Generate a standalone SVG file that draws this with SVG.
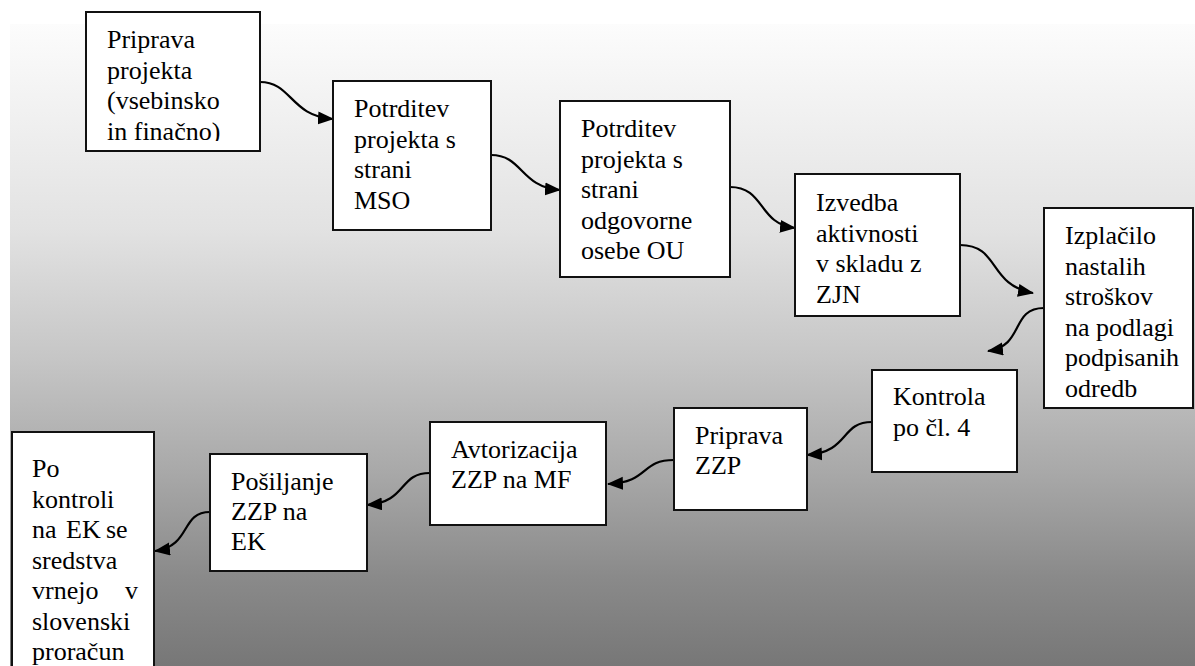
<svg xmlns="http://www.w3.org/2000/svg" width="1195" height="666" viewBox="0 0 1195 666">
<style>
.box{fill:#fff;stroke:#111;stroke-width:2}
.c{fill:none;stroke:#000;stroke-width:2.2}
</style>
<defs>
<linearGradient id="bg" gradientUnits="userSpaceOnUse" x1="0" y1="24" x2="0" y2="666">
<stop offset="0" stop-color="#fcfcfc"/>
<stop offset="0.32" stop-color="#e2e2e2"/>
<stop offset="0.52" stop-color="#c6c6c6"/>
<stop offset="0.70" stop-color="#a8a8a8"/>
<stop offset="0.86" stop-color="#8a8a8a"/>
<stop offset="1" stop-color="#777777"/>
</linearGradient>
<marker id="ah" markerUnits="userSpaceOnUse" markerWidth="17" markerHeight="14" refX="15" refY="6.5" orient="auto">
<path d="M0,0 L16,6.5 L0,13 z" fill="#000" stroke="none"/>
</marker>
<clipPath id="clip1"><rect x="86" y="12" width="174" height="129"/></clipPath>
</defs>
<rect x="0" y="0" width="1195" height="666" fill="#fff"/>
<rect x="10" y="24" width="1185" height="642" fill="url(#bg)"/>

<g id="connectors">
<path class="c" d="M260,82 C292,82 290,116 333,119" marker-end="url(#ah)"/>
<path class="c" d="M491,155 C523,155 520,187 560,190" marker-end="url(#ah)"/>
<path class="c" d="M730,187 C765,187 758,224 795,228" marker-end="url(#ah)"/>
<path class="c" d="M960,245 C1000,245 988,285 1033,293" marker-end="url(#ah)"/>
<path class="c" d="M1044,308 C1010,308 1025,346 988,351" marker-end="url(#ah)"/>
<path class="c" d="M872,422 C840,422 850,452 807,455" marker-end="url(#ah)"/>
<path class="c" d="M674,460 C640,460 650,482 608,484" marker-end="url(#ah)"/>
<path class="c" d="M430,473 C398,473 408,502 367,505" marker-end="url(#ah)"/>
<path class="c" d="M210,512 C180,512 192,546 155,551" marker-end="url(#ah)"/>
</g>

<g id="n1" font-family="Liberation Serif, serif" font-size="26">
<rect class="box" x="86" y="12" width="174" height="139"/>
<g clip-path="url(#clip1)">
<text x="107" y="48">Priprava</text>
<text x="107" y="78.5">projekta</text>
<text x="107" y="109">(vsebinsko</text>
<text x="107" y="139.5">in finačno)</text>
</g>
</g>

<g id="n2" font-family="Liberation Serif, serif" font-size="26">
<rect class="box" x="333" y="81" width="158" height="149"/>
<text x="354" y="117">Potrditev</text>
<text x="354" y="147.5">projekta s</text>
<text x="354" y="178">strani</text>
<text x="354" y="208.5">MSO</text>
</g>

<g id="n3" font-family="Liberation Serif, serif" font-size="26">
<rect class="box" x="560" y="101" width="170" height="176"/>
<text x="581" y="137">Potrditev</text>
<text x="581" y="167.5">projekta s</text>
<text x="581" y="198">strani</text>
<text x="581" y="228.5">odgovorne</text>
<text x="581" y="259">osebe OU</text>
</g>

<g id="n4" font-family="Liberation Serif, serif" font-size="26">
<rect class="box" x="795" y="174" width="165" height="142"/>
<text x="816" y="211">Izvedba</text>
<text x="816" y="241.5">aktivnosti</text>
<text x="816" y="272">v skladu z</text>
<text x="816" y="302.5">ZJN</text>
</g>

<g id="n5" font-family="Liberation Serif, serif" font-size="26">
<rect class="box" x="1044" y="208" width="149" height="200"/>
<text x="1065" y="244">Izplačilo</text>
<text x="1065" y="274.5">nastalih</text>
<text x="1065" y="305">stroškov</text>
<text x="1065" y="335.5">na podlagi</text>
<text x="1065" y="366">podpisanih</text>
<text x="1065" y="396.5">odredb</text>
</g>

<g id="n6" font-family="Liberation Serif, serif" font-size="26">
<rect class="box" x="872" y="370" width="145" height="102"/>
<text x="893" y="405">Kontrola</text>
<text x="893" y="436">po čl. 4</text>
</g>

<g id="n7" font-family="Liberation Serif, serif" font-size="26">
<rect class="box" x="674" y="408" width="133" height="102"/>
<text x="695" y="444">Priprava</text>
<text x="695" y="474">ZZP</text>
</g>

<g id="n8" font-family="Liberation Serif, serif" font-size="26">
<rect class="box" x="430" y="422" width="176" height="103"/>
<text x="451" y="458">Avtorizacija</text>
<text x="451" y="488">ZZP na MF</text>
</g>

<g id="n9" font-family="Liberation Serif, serif" font-size="26">
<rect class="box" x="210" y="454" width="157" height="117"/>
<text x="231" y="490">Pošiljanje</text>
<text x="231" y="520">ZZP na</text>
<text x="231" y="550">EK</text>
</g>

<g id="n10" font-family="Liberation Serif, serif" font-size="26">
<rect class="box" x="12" y="432" width="142" height="240"/>
<text x="32" y="477">Po</text>
<text x="32" y="507.5">kontroli</text>
<text y="538"><tspan x="32">na</tspan><tspan x="66">EK</tspan><tspan x="106">se</tspan></text>
<text x="32" y="568.5">sredstva</text>
<text y="599"><tspan x="32">vrnejo</tspan><tspan x="125">v</tspan></text>
<text x="32" y="629.5">slovenski</text>
<text x="32" y="660">proračun</text>
</g>
</svg>
